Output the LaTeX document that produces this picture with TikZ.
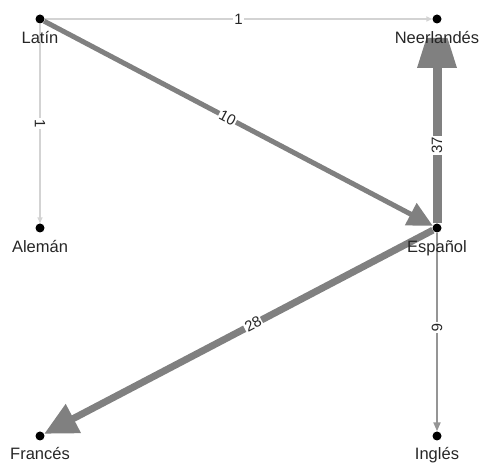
\documentclass[tikz,border=0pt]{standalone}
\usepackage{fontspec}
\setmainfont{Liberation Sans}
\usetikzlibrary{arrows.meta,calc}
\definecolor{heavy}{HTML}{808080}
\definecolor{light}{HTML}{D3D3D3}
\definecolor{mid}{HTML}{959595}
\begin{document}
\begin{tikzpicture}[x=1pt,y=-1pt,
  dot/.style={circle,fill=black,inner sep=0pt,minimum size=9pt},
  lbl/.style={anchor=base,inner sep=0pt,font=\fontsize{16.5}{19}\selectfont,text=black!85},
  elbl/.style={fill=white,inner sep=1pt,font=\fontsize{15}{17}\selectfont,text=black!85,sloped},
  thin1/.style={draw=light,line width=1.5pt,-{Triangle[width=5pt,length=6pt]}}]
\useasboundingbox (0,0) rectangle (483,465);
\node[dot] (la) at (40,19) {};
\node[dot] (ne) at (437,19) {};
\node[dot] (al) at (40,228) {};
\node[dot] (es) at (437,228) {};
\node[dot] (fr) at (40,436) {};
\node[dot] (in) at (437,436) {};
% edges
\draw[thin1] (la) -- node[elbl,pos=0.5]{1} (ne);
\draw[thin1] (la) -- node[elbl,pos=0.5]{1} (al);
\draw[draw=heavy,line width=5pt,-{Triangle[width=24pt,length=25pt]}] (la) -- node[elbl,pos=0.472]{10} (es);
\draw[draw=heavy,line width=7pt,-{Triangle[width=31pt,length=33pt]}] (es) -- node[elbl,pos=0.4625]{28} (fr);
\draw[draw=mid,line width=2pt,-{Triangle[width=7pt,length=9pt]}] (es) -- node[elbl,pos=0.478]{6} (in);
\coordinate (neb) at ($(ne)+(0,49)$);
\draw[draw=heavy,line width=9pt] (es) -- node[elbl,pos=0.5]{37} (neb);
\fill[heavy] ($(ne)+(-10.5,19)$) -- ($(ne)+(10.5,19)$) -- ($(ne)+(20,49)$) -- ($(ne)+(-20,49)$) -- cycle;
% labels
\node[lbl] (lla) at ($(la)+(0,25)$) {Latín};
\node[lbl] (lne) at ($(ne)+(0,25)$) {Neerlandés};
\node[lbl] (lal) at ($(al)+(0,25)$) {Alemán};
\node[lbl] (les) at ($(es)+(0,25)$) {Español};
\node[lbl] (lfr) at ($(fr)+(0,24)$) {Francés};
\node[lbl] (lin) at ($(in)+(0,24)$) {Inglés};
\end{tikzpicture}
\end{document}
